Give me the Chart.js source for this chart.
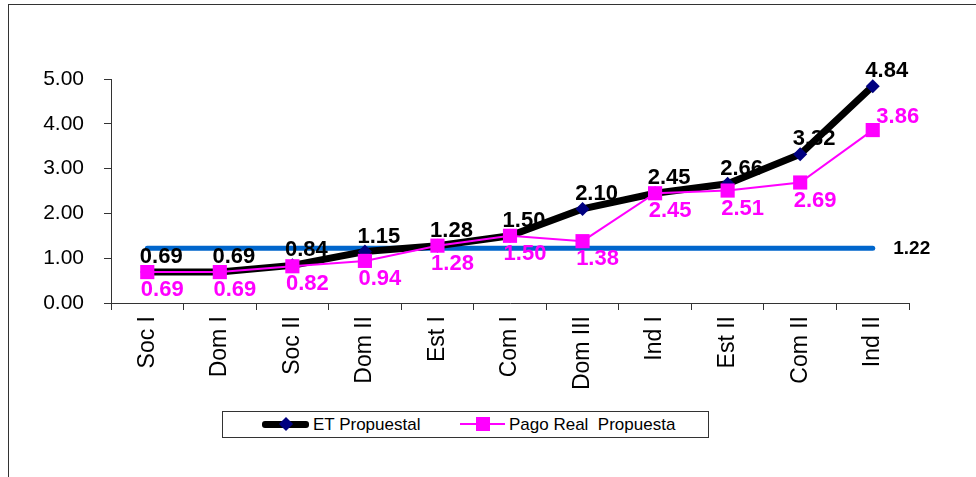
<!DOCTYPE html>
<html>
<head>
<meta charset="utf-8">
<script src="https://cdn.jsdelivr.net/npm/chart.js@4.4.1/dist/chart.umd.min.js"></script>
<style>
  html, body { margin: 0; padding: 0; width: 976px; height: 477px; overflow: hidden; background: #fff; }
  #frame { position: absolute; left: 8px; top: 4px; width: 1000px; height: 500px;
           border-left: 1px solid #333; border-top: 1px solid #333; }
  #c { position: absolute; left: 0; top: 0; }
  #legend { position: absolute; left: 222px; top: 411px; width: 485px; height: 25px;
            border: 1px solid #333; background: #fff;
            font-family: "Liberation Sans", Arial, sans-serif; font-size: 17px; color: #000; }
  .item { position: absolute; top: 0; height: 25px; line-height: 25px; white-space: pre; }
  .swatch { position: absolute; }
</style>
</head>
<body>
<div id="frame"></div>
<canvas id="c" width="976" height="477"></canvas>
<div id="legend"></div>
<script>
/* ── datos ── */
const categorias = ['Soc I','Dom I','Soc II','Dom II','Est I','Com I','Dom III','Ind I','Est II','Com II','Ind II'];
const etPropuesta = [0.69, 0.69, 0.84, 1.15, 1.28, 1.50, 2.10, 2.45, 2.66, 3.32, 4.84];
const pagoReal    = [0.69, 0.69, 0.82, 0.94, 1.28, 1.50, 1.38, 2.45, 2.51, 2.69, 3.86];
const promedio    = [1.22, 1.22, 1.22, 1.22, 1.22, 1.22, 1.22, 1.22, 1.22, 1.22, 1.22];
const yTicks      = [0, 1, 2, 3, 4, 5];
const nombres     = ['ET Propuestal', 'Pago Real  Propuesta'];

const FONT = "'Liberation Sans', Arial, sans-serif";
const NAVY = '#000080', MAGENTA = '#ff00ff', BLUE = '#0066cc';

/* ── etiquetas de datos (plugin propio) ── */
const labelPlugin = {
  id: 'valueLabels',
  afterDatasetsDraw(chart) {
    const ctx = chart.ctx;
    ctx.save();
    ctx.textAlign = 'center';
    ctx.textBaseline = 'middle';
    chart.data.datasets.forEach((ds, di) => {
      const cfg = ds.valueLabels;
      if (!cfg) return;
      const meta = chart.getDatasetMeta(di);
      meta.data.forEach((pt, i) => {
        if (cfg.only !== undefined && cfg.only !== i) return;
        const last = i === meta.data.length - 1;
        const dx = last && cfg.lastDx !== undefined ? cfg.lastDx : cfg.dx;
        const dy = last && cfg.lastDy !== undefined ? cfg.lastDy : cfg.dy;
        ctx.font = cfg.font;
        ctx.fillStyle = cfg.color;
        ctx.fillText(ds.data[i].toFixed(2), pt.x + dx, pt.y + dy);
      });
    });
    ctx.restore();
  }
};

new Chart(document.getElementById('c'), {
  type: 'line',
  data: {
    labels: categorias,
    datasets: [
      {
        label: nombres[1], data: pagoReal, order: 0,
        borderColor: MAGENTA, borderWidth: 2,
        pointStyle: 'rect', pointRadius: 10, pointBackgroundColor: MAGENTA, pointBorderColor: MAGENTA, pointBorderWidth: 0,
        valueLabels: { color: MAGENTA, font: 'bold 22px ' + FONT, dx: 15, dy: 18, lastDx: 25, lastDy: -13 }
      },
      {
        label: nombres[0], data: etPropuesta, order: 1,
        borderColor: '#000', borderWidth: 7,
        pointStyle: 'rectRot', pointRadius: 7, pointBackgroundColor: NAVY, pointBorderColor: NAVY, pointBorderWidth: 0,
        valueLabels: { color: '#000', font: 'bold 22px ' + FONT, dx: 14, dy: -15 }
      },
      {
        label: 'Promedio', data: promedio, order: 2,
        borderColor: BLUE, borderWidth: 5, borderCapStyle: 'round', pointRadius: 0,
        valueLabels: { color: '#000', font: 'bold 19px ' + FONT, dx: 39, dy: 0, only: 10 }
      }
    ]
  },
  options: {
    responsive: false, animation: false,
    layout: { padding: { left: 0, right: 67, top: 79, bottom: 0 } },
    scales: {
      x: {
        offset: true,
        grid: { offset: true, drawOnChartArea: false, drawTicks: true, tickLength: 7, color: '#333' },
        border: { color: '#333', width: 1 },
        ticks: { autoSkip: false, minRotation: 90, maxRotation: 90, padding: 6, color: '#000', font: { family: FONT, size: 23 } },
        afterFit: s => { s.height = 174; }
      },
      y: {
        min: 0, max: 5,
        afterBuildTicks: s => { s.ticks = yTicks.map(v => ({ value: v })); },
        grid: { drawOnChartArea: false, drawTicks: true, tickLength: 7, color: '#333' },
        border: { color: '#333', width: 1 },
        ticks: { padding: 20, color: '#000', font: { family: FONT, size: 21 }, callback: v => v.toFixed(2) },
        afterFit: s => { s.width = 111; }
      }
    },
    plugins: { legend: { display: false }, tooltip: { enabled: false } }
  },
  plugins: [labelPlugin]
});

/* ── leyenda ── */
const legend = document.getElementById('legend');
legend.innerHTML =
  '<div class="swatch" style="left:39px;top:9px;width:47px;height:7px;background:#000;border-radius:3px"></div>' +
  '<div class="swatch" style="left:58px;top:7px;width:10px;height:10px;background:' + NAVY + ';transform:rotate(45deg)"></div>' +
  '<div class="item" style="left:90px">' + nombres[0] + '</div>' +
  '<div class="swatch" style="left:237px;top:11px;width:45px;height:2px;background:' + MAGENTA + '"></div>' +
  '<div class="swatch" style="left:253px;top:5px;width:14px;height:14px;background:' + MAGENTA + '"></div>' +
  '<div class="item" style="left:286px">' + nombres[1] + '</div>';
</script>
</body>
</html>
